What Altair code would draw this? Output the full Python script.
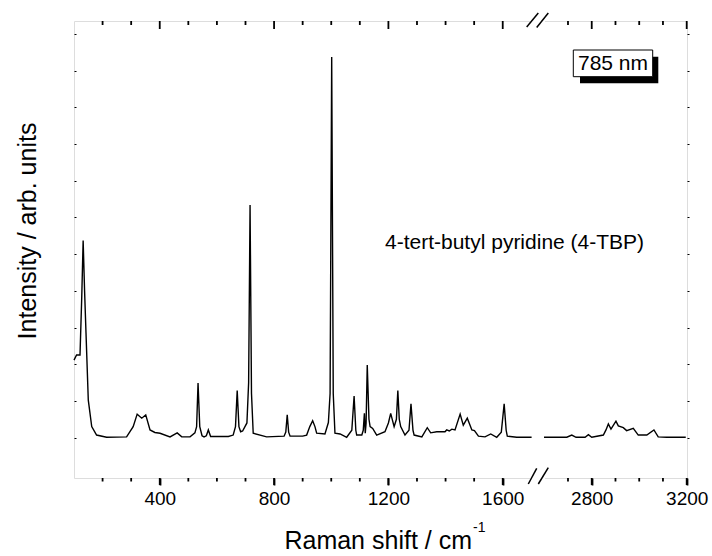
import altair as alt
import pandas as pd

# Raman spectrum of 4-tert-butyl pyridine (785 nm)
low_shift = [100, 109, 121, 127, 132, 137, 142, 150, 162, 179, 214, 284, 307, 321, 337, 351,
             366, 383, 401, 436, 461, 477, 506, 523, 529, 534, 540, 548, 555, 563, 570, 578,
             640, 657, 665, 671, 677, 683, 690, 705, 711, 716, 721, 727, 774, 835, 841, 846,
             851, 856, 900, 914, 925, 935, 943, 949, 978, 990, 996, 1001.6, 1007, 1013, 1031,
             1054, 1072, 1080, 1086, 1089, 1107, 1112, 1116, 1119, 1122, 1126, 1132, 1136, 1145,
             1159, 1188, 1200, 1208, 1220, 1228, 1233, 1238, 1243, 1258, 1272, 1279, 1286, 1290,
             1317, 1336, 1348, 1369, 1398, 1404, 1413, 1422, 1433, 1451, 1462, 1476, 1492, 1501,
             1515, 1538, 1558, 1579, 1595, 1605, 1612, 1616, 1649, 1701]
low_int = [21.1, 22.5, 22.5, 38.0, 53.7, 40.0, 28.5, 10.2, 3.0, 0.7, 0.1, 0.2, 3.0, 6.4, 5.3, 6.2,
           2.1, 1.4, 1.2, 0.2, 1.3, 0.2, 0.2, 1.3, 3.0, 14.9, 3.0, 0.5, 0.2, 0.5, 2.1, 0.3,
           0.3, 0.7, 3.0, 12.8, 3.0, 1.6, 1.8, 4.0, 15.0, 63.4, 12.0, 1.2, 0.2, 0.4, 1.5, 6.2,
           1.5, 0.4, 0.4, 0.7, 3.0, 4.6, 3.0, 1.2, 1.0, 4.1, 12.0, 103.7, 12.0, 1.2, 1.0,
           0.1, 2.0, 11.3, 2.0, 0.7, 0.7, 2.0, 6.6, 1.2, 4.0, 19.8, 5.0, 3.0, 2.5,
           0.7, 1.6, 4.0, 6.6, 3.0, 5.0, 12.8, 5.0, 3.0, 0.7, 2.0, 9.2, 2.0, 0.7,
           0.2, 2.7, 1.3, 1.6, 1.6, 2.1, 1.8, 2.3, 2.1, 6.4, 3.4, 5.3, 2.1, 1.9,
           0.4, 0.2, 1.0, 0.1, 1.5, 9.2, 2.0, 0.4, 0.1, 0.1]
high_shift = [2599, 2695, 2716, 2734, 2772, 2786, 2800, 2849, 2860, 2870, 2881, 2902, 2912,
              2933, 2947, 2975, 2996, 3032, 3062, 3080, 3116, 3196]
high_int = [0.1, 0.1, 0.7, 0.1, 0.1, 0.8, 0.1, 0.7, 2.1, 3.7, 2.3, 4.5, 3.2,
            2.7, 1.9, 2.5, 0.7, 0.7, 2.1, 0.2, 0.1, 0.1]

major_ticks = [400, 800, 1200, 1600, 2800, 3200]
minor_ticks = [200, 300, 500, 600, 700, 900, 1000, 1100, 1300, 1400, 1500,
               2700, 2900, 3000, 3100]
y_ticks = list(range(0, 111, 10))

df = pd.DataFrame({
    "shift": low_shift + high_shift,
    "intensity": low_int + high_int,
    "segment": ["low"] * len(low_shift) + ["high"] * len(high_shift),
})
major_df = pd.DataFrame({"shift": major_ticks})
minor_df = pd.DataFrame({"shift": minor_ticks})

W, H = 613, 457
FONT = "Liberation Sans"
Y_MIN, Y_MAX = -11, 113.5
PX = H / (Y_MAX - Y_MIN)  # pixels per intensity unit
xscale = alt.Scale(domain=[100, 1715, 2580, 3200], range=[0, 461.6, 465.5, 612.7],
                   zero=False, nice=False)
yscale = alt.Scale(domain=[Y_MIN, Y_MAX], zero=False, nice=False)


def yaxis(orient, size):
    return alt.Axis(orient=orient, values=y_ticks, tickSize=size, tickWidth=1,
                    tickColor="black", domain=False, grid=False, title=None,
                    labels=False, zindex=0)


spectrum = alt.Chart(df).mark_line(color="black", strokeWidth=1.4).encode(
    x=alt.X("shift:Q", scale=xscale,
            axis=alt.Axis(orient="bottom", values=major_ticks, format="d",
                          ticks=True, tickSize=7, tickWidth=1.8, tickColor="black",
                          labelFontSize=19, labelColor="black", labelPadding=4,
                          labelFont=FONT, labelFlush=False, domain=False, grid=False,
                          title=None)),
    y=alt.Y("intensity:Q", scale=yscale, axis=yaxis("left", {"expr": "-2"})),
    detail="segment:N",
)

right_axis = alt.Chart(df).mark_line(strokeOpacity=0).encode(
    x=alt.X("shift:Q", scale=xscale, axis=None),
    y=alt.Y("intensity:Q", scale=yscale, axis=yaxis("right", 2)),
    detail="segment:N",
)


def tick_rules(data, y0, length):
    # tick marks running from an edge of the frame, length in pixels
    return alt.Chart(data).mark_rule(color="black", strokeWidth=1.8).encode(
        x=alt.X("shift:Q", scale=xscale, axis=None),
        y=alt.Y(datum=y0, scale=yscale, axis=None),
        y2=alt.Y2(datum=y0 + length / PX),
    )


ticks = [
    tick_rules(major_df, Y_MIN, -7),
    tick_rules(minor_df, Y_MIN, -3.5),
    tick_rules(major_df, Y_MAX, -8),
    tick_rules(minor_df, Y_MAX, -4),
]

one = pd.DataFrame({"k": [0]})


def rect(x, x2, y, y2, fill, stroke=None):
    kw = dict(fill=fill)
    if stroke:
        kw.update(stroke=stroke, strokeWidth=1)
    return alt.Chart(one).mark_rect(**kw).encode(
        x=alt.value(x), x2=alt.value(x2), y=alt.value(y), y2=alt.value(y2))


def rule(x, x2, y, y2):
    return alt.Chart(one).mark_rule(color="black", strokeWidth=1.5).encode(
        x=alt.value(x), x2=alt.value(x2), y=alt.value(y), y2=alt.value(y2))


def text(s, x, y, size, align="center", angle=None, baseline="middle"):
    kw = dict(align=align, baseline=baseline, fontSize=size, font=FONT, color="black")
    if angle is not None:
        kw["angle"] = angle
    return alt.Chart(one).mark_text(**kw).encode(
        x=alt.value(x), y=alt.value(y), text=alt.value(s))


decor = [
    # axis breaks
    rect(456, 471, -2.5, 2.5, "white"),
    rect(456, 471, H - 2.5, H + 2.5, "white"),
    rule(452.7, 464.3, 6, -8), rule(462.7, 474.3, 6.5, -8),
    rule(454.3, 462.7, 463, 447.3), rule(464.3, 474.3, 463, 446.7),
    # laser label box
    rect(506, 584.3, 35.7, 62.3, "black"),
    rect(499.3, 578.7, 29, 55.7, "white", "black"),
    text("785 nm", 539, 43, 21),
    # annotation
    text("4-tert-butyl pyridine (4-TBP)", 311, 222, 21, align="left"),
    # axis titles
    text("Raman shift / cm", 398, 520, 25, align="right"),
    text("-1", 399, 507, 14, align="left"),
    text("Intensity / arb. units", -46, 210, 25, angle=270),
]

chart = alt.layer(spectrum, right_axis, *decor, *ticks).properties(
    width=W, height=H,
    autosize=alt.AutoSizeParams(type="none"),
    padding={"left": 74, "top": 21, "right": 25, "bottom": 78},
).resolve_axis(x="independent", y="independent").configure_view(
    stroke="black", strokeWidth=1.5
).configure(font=FONT, background="white")

chart.save("out.html", embed_options={"renderer": "svg", "actions": False})
